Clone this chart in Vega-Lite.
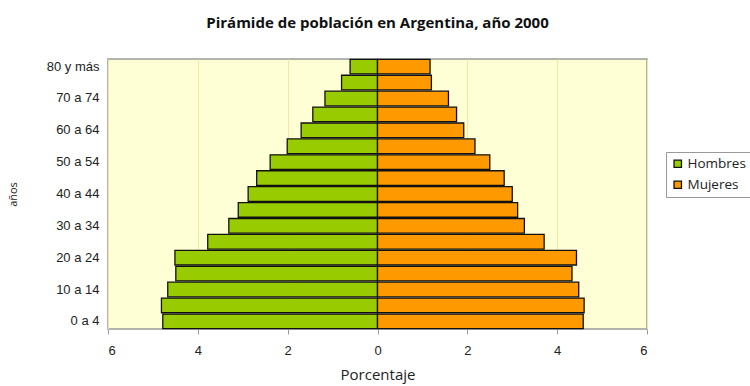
{
  "$schema": "https://vega.github.io/schema/vega-lite/v6.json",
  "autosize": "none",
  "width": 539,
  "height": 270,
  "padding": {"left": 108, "top": 59, "right": 103, "bottom": 57},
  "background": "white",
  "title": {
    "text": "Pirámide de población en Argentina, año 2000",
    "font": "Open Sans",
    "fontSize": 15,
    "fontWeight": "bold",
    "color": "#111",
    "anchor": "middle",
    "offset": 28
  },
  "config": {
    "view": {"fill": "#FFFFD6", "stroke": "#9a9a9a", "strokeWidth": 1.5}
  },
  "data": {
    "values": [
      {"edad": "0 a 4", "sexo": "Hombres", "porcentaje": 4.78},
      {"edad": "5 a 9", "sexo": "Hombres", "porcentaje": 4.81},
      {"edad": "10 a 14", "sexo": "Hombres", "porcentaje": 4.67},
      {"edad": "15 a 19", "sexo": "Hombres", "porcentaje": 4.49},
      {"edad": "20 a 24", "sexo": "Hombres", "porcentaje": 4.51},
      {"edad": "25 a 29", "sexo": "Hombres", "porcentaje": 3.78},
      {"edad": "30 a 34", "sexo": "Hombres", "porcentaje": 3.31},
      {"edad": "35 a 39", "sexo": "Hombres", "porcentaje": 3.1},
      {"edad": "40 a 44", "sexo": "Hombres", "porcentaje": 2.88},
      {"edad": "45 a 49", "sexo": "Hombres", "porcentaje": 2.69},
      {"edad": "50 a 54", "sexo": "Hombres", "porcentaje": 2.39},
      {"edad": "55 a 59", "sexo": "Hombres", "porcentaje": 2.01},
      {"edad": "60 a 64", "sexo": "Hombres", "porcentaje": 1.7},
      {"edad": "65 a 69", "sexo": "Hombres", "porcentaje": 1.44},
      {"edad": "70 a 74", "sexo": "Hombres", "porcentaje": 1.17},
      {"edad": "75 a 79", "sexo": "Hombres", "porcentaje": 0.8},
      {"edad": "80 y más", "sexo": "Hombres", "porcentaje": 0.61},
      {"edad": "0 a 4", "sexo": "Mujeres", "porcentaje": 4.58},
      {"edad": "5 a 9", "sexo": "Mujeres", "porcentaje": 4.6},
      {"edad": "10 a 14", "sexo": "Mujeres", "porcentaje": 4.48},
      {"edad": "15 a 19", "sexo": "Mujeres", "porcentaje": 4.33},
      {"edad": "20 a 24", "sexo": "Mujeres", "porcentaje": 4.43},
      {"edad": "25 a 29", "sexo": "Mujeres", "porcentaje": 3.71},
      {"edad": "30 a 34", "sexo": "Mujeres", "porcentaje": 3.27},
      {"edad": "35 a 39", "sexo": "Mujeres", "porcentaje": 3.12},
      {"edad": "40 a 44", "sexo": "Mujeres", "porcentaje": 3.0},
      {"edad": "45 a 49", "sexo": "Mujeres", "porcentaje": 2.82},
      {"edad": "50 a 54", "sexo": "Mujeres", "porcentaje": 2.5},
      {"edad": "55 a 59", "sexo": "Mujeres", "porcentaje": 2.17},
      {"edad": "60 a 64", "sexo": "Mujeres", "porcentaje": 1.92},
      {"edad": "65 a 69", "sexo": "Mujeres", "porcentaje": 1.76},
      {"edad": "70 a 74", "sexo": "Mujeres", "porcentaje": 1.58},
      {"edad": "75 a 79", "sexo": "Mujeres", "porcentaje": 1.2},
      {"edad": "80 y más", "sexo": "Mujeres", "porcentaje": 1.17}
    ]
  },
  "transform": [
    {"calculate": "datum.sexo === 'Hombres' ? -datum.porcentaje : datum.porcentaje", "as": "lado"}
  ],
  "mark": {"type": "bar", "stroke": "#111", "strokeWidth": 1.3},
  "encoding": {
    "y": {
      "field": "edad",
      "type": "ordinal",
      "sort": ["80 y más", "75 a 79", "70 a 74", "65 a 69", "60 a 64", "55 a 59", "50 a 54", "45 a 49", "40 a 44", "35 a 39", "30 a 34", "25 a 29", "20 a 24", "15 a 19", "10 a 14", "5 a 9", "0 a 4"],
      "scale": {"paddingInner": 0.08, "paddingOuter": 0.02},
      "axis": {
        "title": "años",
        "titleFont": "Open Sans",
        "titleFontSize": 11,
        "titleFontWeight": "normal",
        "titleColor": "#222",
        "titlePadding": 28,
        "values": ["80 y más", "70 a 74", "60 a 64", "50 a 54", "40 a 44", "30 a 34", "20 a 24", "10 a 14", "0 a 4"],
        "labelFont": "Liberation Sans",
        "labelFontSize": 13,
        "labelColor": "#222",
        "labelPadding": 9,
        "domain": false,
        "ticks": false,
        "grid": false
      }
    },
    "x": {
      "field": "lado",
      "type": "quantitative",
      "scale": {"domain": [-6, 6], "nice": false},
      "axis": {
        "title": "Porcentaje",
        "titleFont": "Open Sans",
        "titleFontSize": 15,
        "titleFontWeight": "normal",
        "titleColor": "#222",
        "titlePadding": 10,
        "values": [-6, -4, -2, 0, 2, 4, 6],
        "labelExpr": "abs(datum.value)",
        "labelFont": "Liberation Sans",
        "labelFontSize": 13,
        "labelColor": "#222",
        "labelPadding": 10,
        "domain": false,
        "tickSize": 5,
        "tickColor": "#9a9a9a",
        "grid": true,
        "gridColor": "#EFE7A8",
        "gridWidth": 1
      }
    },
    "color": {
      "field": "sexo",
      "type": "nominal",
      "scale": {"domain": ["Hombres", "Mujeres"], "range": ["#99CC00", "#FF9900"]},
      "legend": {
        "title": null,
        "orient": "none",
        "legendX": 558,
        "legendY": 93,
        "symbolType": "square",
        "symbolSize": 55,
        "symbolStrokeColor": "#111",
        "symbolStrokeWidth": 1.3,
        "labelFont": "Open Sans",
        "labelFontSize": 13.5,
        "labelColor": "#222",
        "labelOffset": 3,
        "rowPadding": 6,
        "padding": 5,
        "strokeColor": "#9a9a9a",
        "fillColor": "white"
      }
    }
  }
}
